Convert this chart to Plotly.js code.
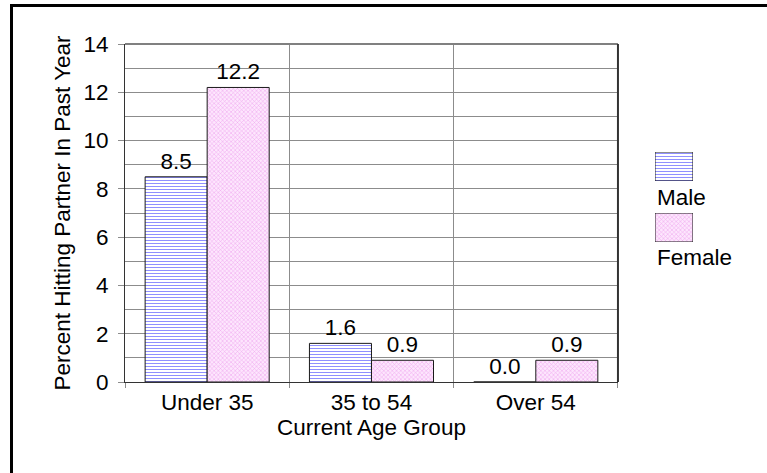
<!DOCTYPE html>
<html>
<head>
<meta charset="utf-8">
<script src="https://cdn.plot.ly/plotly-3.0.1.min.js"></script>
<style>
  html, body { margin: 0; padding: 0; background: #fff; }
  #chart { width: 767px; height: 473px; position: absolute; left: 0; top: 0; }
  #frame { position: absolute; left: 10px; top: 4px; width: 757px; height: 469px;
           border-left: 3px solid #000; border-top: 3px solid #000; box-sizing: border-box;
           pointer-events: none; z-index: 10; }
</style>
</head>
<body>
<div id="chart"></div>
<div id="frame"></div>
<script>
// Age groups and the share (%) of respondents who hit a partner in the past year
const ageGroups = ["Under 35", "35 to 54", "Over 54"];
const maleValues = [8.5, 1.6, 0.0];
const femaleValues = [12.2, 0.9, 0.9];
const seriesNames = ["Male", "Female"];
const yTickValues = [0, 2, 4, 6, 8, 10, 12, 14];

const FONT = "Liberation Sans";
const FS = 22.5;

const malePattern = { shape: "-", size: 3, solidity: 0.3, fgcolor: "#8282ff", bgcolor: "#ffffff" };
const femalePattern = { shape: "x", size: 3, solidity: 0.3, fgcolor: "#eea0ee", bgcolor: "#fde6fd" };
const outline = { color: "#1a1a1a", width: 1 };

const traces = [
  {
    type: "bar", name: seriesNames[0], x: ageGroups, y: maleValues,
    marker: { color: "#ffffff", pattern: malePattern, line: outline },
    texttemplate: "%{y:.1f}", textposition: "outside", cliponaxis: false,
    textfont: { family: FONT, size: FS, color: "#000" },
    showlegend: false, hoverinfo: "x+y"
  },
  {
    type: "bar", name: seriesNames[1], x: ageGroups, y: femaleValues,
    marker: { color: "#fde6fd", pattern: femalePattern, line: outline },
    texttemplate: "%{y:.1f}", textposition: "outside", cliponaxis: false,
    textfont: { family: FONT, size: FS, color: "#000" },
    showlegend: false, hoverinfo: "x+y"
  },
  // legend keys: one swatch per series, each in its own small box
  {
    type: "bar", x: [0], y: [1], width: [1], xaxis: "x2", yaxis: "y2",
    marker: { color: "#ffffff", pattern: malePattern, line: outline },
    showlegend: false, hoverinfo: "skip"
  },
  {
    type: "bar", x: [0], y: [1], width: [1], xaxis: "x2", yaxis: "y3",
    marker: { color: "#fde6fd", pattern: femalePattern, line: outline },
    showlegend: false, hoverinfo: "skip"
  }
];

const layout = {
  width: 767, height: 473,
  margin: { l: 125, r: 10, t: 44, b: 91 },
  paper_bgcolor: "#ffffff", plot_bgcolor: "#ffffff",
  font: { family: FONT, size: FS, color: "#000" },
  barmode: "group", bargap: 0.245, bargroupgap: 0,
  showlegend: false,
  xaxis: {
    domain: [0, 0.78],
    type: "category",
    tickson: "boundaries",
    showgrid: true, gridcolor: "#8c8c8c", gridwidth: 1,
    ticks: "outside", ticklen: 5, tickcolor: "#8c8c8c",
    showline: true, linecolor: "#333", linewidth: 1,
    tickfont: { family: FONT, size: FS },
    title: { text: "Current Age Group", font: { family: FONT, size: FS }, standoff: 0 }
  },
  yaxis: {
    range: [0, 14],
    tickvals: yTickValues,
    showgrid: true, gridcolor: "#8c8c8c", gridwidth: 1,
    minor: { dtick: 1, showgrid: true, gridcolor: "#8c8c8c", gridwidth: 1 },
    ticks: "outside", ticklen: 6, tickcolor: "#8c8c8c",
    ticklabelstandoff: 5,
    showline: true, linecolor: "#333", linewidth: 1,
    zeroline: false,
    tickfont: { family: FONT, size: FS },
    title: { text: "Percent Hitting Partner In Past Year", font: { family: FONT, size: FS }, standoff: 6 }
  },
  xaxis2: { domain: [0.8386, 0.8987], range: [-0.5, 0.5], visible: false, fixedrange: true },
  yaxis2: { domain: [0.5947, 0.6805], range: [0, 1], visible: false, fixedrange: true, anchor: "x2" },
  yaxis3: { domain: [0.4142, 0.5], range: [0, 1], visible: false, fixedrange: true, anchor: "x2" },
  shapes: [
    // plot frame: grey top edge, dark right edge
    { type: "line", xref: "x domain", yref: "y domain", x0: 0, x1: 1, y0: 1, y1: 1,
      line: { color: "#808080", width: 2 } },
    { type: "line", xref: "x domain", yref: "y domain", x0: 1, x1: 1, y0: 0, y1: 1,
      line: { color: "#333", width: 2 } }
  ],
  annotations: [
    { xref: "paper", yref: "paper", x: 0.8386, y: 0.547, xanchor: "left", yanchor: "middle",
      text: seriesNames[0], showarrow: false, font: { family: FONT, size: FS } },
    { xref: "paper", yref: "paper", x: 0.8386, y: 0.367, xanchor: "left", yanchor: "middle",
      text: seriesNames[1], showarrow: false, font: { family: FONT, size: FS } }
  ]
};

Plotly.newPlot("chart", traces, layout, { staticPlot: true, displayModeBar: false });
</script>
</body>
</html>
